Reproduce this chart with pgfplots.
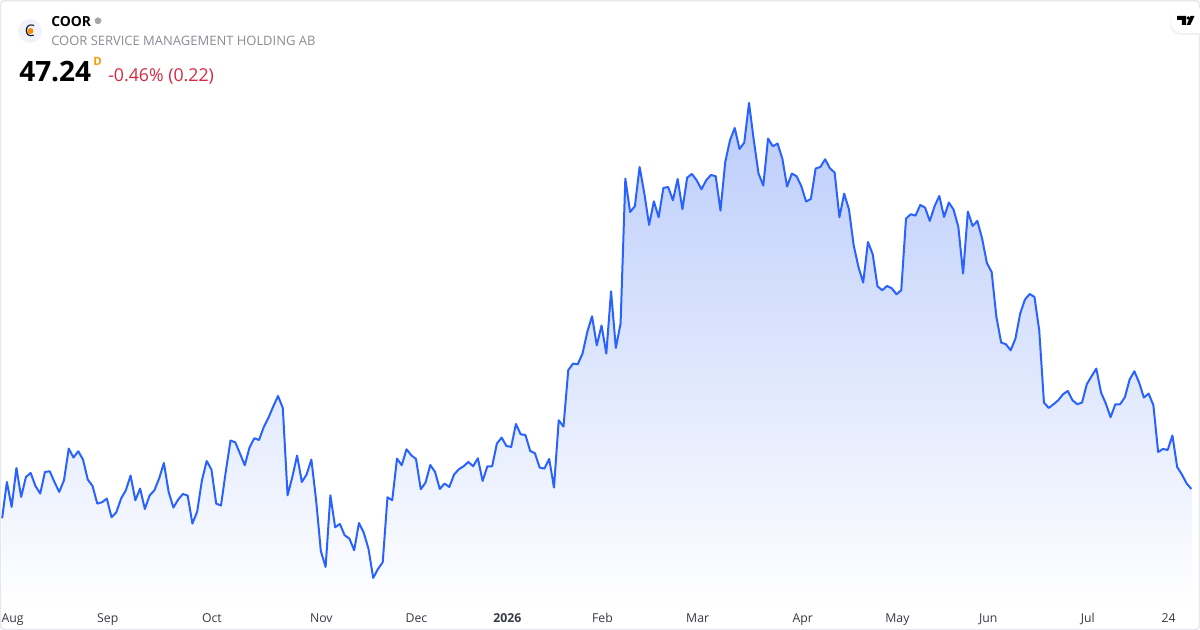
\documentclass[border=0pt]{standalone}
\usepackage{pgfplots}
\usepackage{pgfplotstable}
\usepackage{fontspec}
\pgfplotsset{compat=1.18}
\setmainfont{Open Sans}
\definecolor{tvblue}{HTML}{2962FF}
\definecolor{areatop}{RGB}{187,204,251}
\definecolor{frameC}{HTML}{E6E8EE}
\definecolor{logobg}{HTML}{F0F3FA}
\definecolor{subgrey}{HTML}{8A8D96}
\definecolor{txt}{HTML}{131722}
\definecolor{redC}{HTML}{D6283E}
\definecolor{orangeC}{HTML}{F59E0B}
\pgfplotstableread[row sep=\\]{h\\
112\\148.3\\123.3\\162.3\\133.3\\153.3\\157.3\\144.3\\136.7\\158.3\\
159\\148.3\\138.3\\150\\181.7\\172.7\\179\\170.7\\150.7\\144.3\\
126.7\\128\\131.7\\113\\118\\131.7\\140\\154.7\\130\\141.7\\
121.3\\134.7\\140\\151.7\\167.3\\138.3\\122.7\\130.7\\136.3\\134.7\\
106.7\\118.7\\150\\169.3\\160.7\\126.7\\124.7\\158.3\\189.7\\188\\
176.7\\165\\182.7\\192\\190.3\\203.3\\212.7\\224\\234.3\\222.3\\
135\\153.3\\174.7\\148.3\\155.7\\170.7\\130\\79\\63.3\\135\\
103\\106.3\\95\\91.7\\80\\107.3\\97.7\\81.7\\52.3\\61.3\\
68\\133\\130\\171.7\\165\\181\\175\\171.3\\141\\147.7\\
165.3\\158.3\\141.3\\146.7\\143.3\\155.7\\161\\164\\168.3\\164\\
172\\149.3\\164\\164\\186.7\\192.7\\184.3\\183.3\\206.3\\196\\
195.3\\179.3\\177\\162.7\\161.7\\171.3\\142.7\\210\\203.7\\260\\
266.7\\266\\276.7\\298.3\\314\\285\\304.7\\276.7\\339\\282.3\\
306.7\\451.7\\418.3\\424\\463.3\\436.7\\405.3\\429\\413\\442.3\\
443.3\\430\\451.3\\421\\452.7\\456.3\\450\\441\\450\\455.3\\
454\\419.7\\468.3\\490\\502.3\\481.3\\487.7\\527.3\\490\\456.7\\
444.7\\491.7\\484\\486.7\\471.7\\443.7\\456.7\\454\\444\\428.7\\
431.3\\461.7\\463.3\\471\\462\\457.7\\413\\436.7\\421\\385\\
363.3\\347.7\\388.3\\376\\344\\340\\344.3\\342\\336\\340\\
411.7\\416\\414.7\\425.3\\422.7\\409.3\\424\\434.3\\413.3\\427.7\\
420.7\\403.3\\356.7\\418.7\\404.3\\409.3\\391.7\\367.3\\358.3\\313.3\\
287.7\\286\\280\\291.7\\316.7\\330.7\\336.3\\333.3\\300\\227.7\\
222.3\\226\\230\\236\\239.3\\230\\226\\227.7\\246\\254\\
261.7\\237.7\\226.7\\213\\226\\226\\233\\250.7\\259\\247.7\\
232.7\\236.7\\225\\178.3\\181.3\\180.3\\194.7\\163.3\\155.7\\146.7\\141.3\\
}\pricedata
\begin{document}
\begin{tikzpicture}
\useasboundingbox (0,0) rectangle (900bp,472.5bp);
\fill[white] (0,0) rectangle (900bp,472.5bp);
\begin{axis}[
  at={(0,16.3bp)}, anchor=south west,
  scale only axis, width=900bp, height=456bp,
  xmin=-0.45, xmax=251.8, ymin=22, ymax=630,
  axis line style={draw=none},
  ytick=\empty,
  xtick={2.2,22.2,44.1,67.1,87.1,106.2,126.2,146.2,168.3,188.2,207.3,228.2,245.2},
  xticklabels={Aug,Sep,Oct,Nov,Dec,\textbf{2026},Feb,Mar,Apr,May,Jun,Jul,24},
  xtick style={draw=none},
  tick align=outside, major tick length=0pt,
  xticklabel style={font=\fontsize{9.2bp}{11bp}\selectfont, text=txt!85, anchor=base, yshift=-10.4bp, inner sep=0pt},
]
\addplot[draw=none, top color=areatop, bottom color=white, forget plot]
  table[x expr=\coordindex, y=h] {\pricedata} \closedcycle;
\addplot[tvblue, line width=1.5bp, line join=round, mark=none]
  table[x expr=\coordindex, y=h] {\pricedata};
\end{axis}
\begin{scope}[shift={(0,472.5bp)}, x=0.75bp, y=-0.75bp]
  % frame
  \draw[frameC, line width=1.1bp, rounded corners=3bp] (0.4,0.6) rectangle (1199.6,629.6);
  % logo
  \fill[logobg] (30,31) circle (12);
  \node[text=txt, font=\fontsize{12bp}{12bp}\selectfont] at (30,31) {C};
  \fill[orangeC!90!red] (30.5,31) circle (3);
  % titles
  \node[anchor=base west, inner sep=0pt, text=black, font=\fontsize{10.4bp}{12bp}\selectfont\bfseries] at (51,27) {COOR};
  \fill[gray!70] (98,20.8) circle (3.4);
  \node[anchor=base west, inner sep=0pt, text=subgrey, font=\fontsize{9.73bp}{12bp}\selectfont] at (51,45.8) {COOR SERVICE MANAGEMENT HOLDING AB};
  \node[anchor=base west, inner sep=0pt, text=black, font=\fontsize{21bp}{24bp}\selectfont\bfseries] at (19,82) {47.24};
  \node[anchor=base west, inner sep=0pt, text=orangeC, font=\fontsize{8.6bp}{10bp}\selectfont\bfseries] at (93,66) {D};
  \node[anchor=base west, inner sep=0pt, text=redC, font=\fontsize{13.3bp}{15bp}\selectfont] at (108,82) {-0.46\% (0.22)};
  % TV tag
  \fill[black!5, rounded corners=8bp] (1170,10) rectangle (1210,35);
  \fill[white, rounded corners=8bp] (1171,8.5) rectangle (1210,33);
  \fill[black] (1177,16) -- (1186,16) -- (1186,25) -- (1181.8,25) -- (1181.8,20) -- (1177,20) -- cycle;
  \fill[black] (1188.2,18) circle (1.9);
  \fill[black] (1190.5,16) -- (1194.5,16) -- (1190.3,25) -- (1186.6,25) -- cycle;
\end{scope}
\end{tikzpicture}
\end{document}
